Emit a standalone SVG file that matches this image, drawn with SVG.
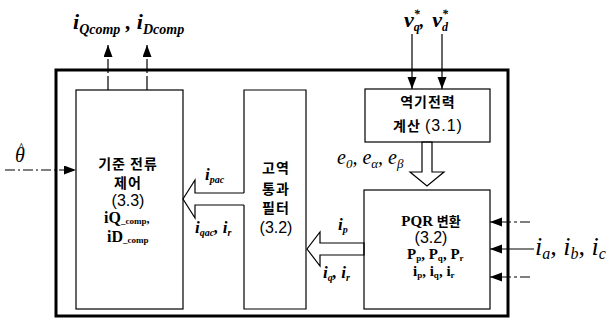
<svg xmlns="http://www.w3.org/2000/svg" width="609" height="320" viewBox="0 0 609 320">
<defs>
<marker id="ah" markerUnits="userSpaceOnUse" markerWidth="13" markerHeight="10" refX="12" refY="4.5" orient="auto">
<path d="M0,0 L12,4.5 L0,9 z" fill="#000"/>
</marker>
<style>
.box{fill:none;stroke:#000;stroke-width:1.2}
.outer{fill:none;stroke:#000;stroke-width:3}
.ln{fill:none;stroke:#000;stroke-width:1.2}
.hollow{fill:#fff;stroke:#000;stroke-width:1.2}
.kr{font-family:"Noto Sans CJK KR","Noto Sans",sans-serif;font-weight:700;font-size:14px;text-anchor:middle;letter-spacing:1px}
.num{font-family:"Liberation Sans",Arial,sans-serif;font-size:16px;text-anchor:middle}
.mi{font-family:"Liberation Serif","Times New Roman",serif;font-style:italic}
.mb{font-family:"Liberation Serif","Times New Roman",serif;font-weight:700}
</style>
</defs>
<rect width="609" height="320" fill="#fff"/>
<rect id="outer" class="outer" x="56" y="70" width="452" height="246"/>

<g id="connectors">
<line class="ln" x1="108" y1="90" x2="108" y2="45" stroke-dasharray="14,3" marker-end="url(#ah)"/>
<line class="ln" x1="147" y1="90" x2="147" y2="45" stroke-dasharray="14,3" marker-end="url(#ah)"/>
<line class="ln" x1="412" y1="34" x2="412" y2="89" marker-end="url(#ah)"/>
<line class="ln" x1="442" y1="34" x2="442" y2="89" marker-end="url(#ah)"/>
<line class="ln" x1="5" y1="170" x2="76" y2="170" stroke-dasharray="10,3,2,3" marker-end="url(#ah)"/>
<line class="ln" x1="530" y1="222" x2="490" y2="222" stroke-dasharray="10,3,3,3" marker-end="url(#ah)"/>
<line class="ln" x1="534" y1="249" x2="490" y2="249" marker-end="url(#ah)"/>
<line class="ln" x1="530" y1="277" x2="490" y2="277" stroke-dasharray="10,3,3,3" marker-end="url(#ah)"/>
<path class="hollow" d="M422,142 V172 H410 L427,186 L444,172 H432 V142 z"/>
<path class="hollow" d="M364,243 H320 V232 L307,249 L320,266 V255 H364 z"/>
<path class="hollow" d="M244,193 H195 V180 L183,199 L195,218 V205 H244"/>
</g>

<g id="ref-current-control">
<rect class="box" x="76" y="90" width="107" height="219"/>
<text class="kr" x="128" y="169">기준 전류</text>
<text class="kr" x="128" y="188">제어</text>
<text class="num" x="128" y="206">(3.3)</text>
<text class="mb" x="104" y="223" font-size="16">iQ<tspan font-size="9" dy="1">_comp</tspan><tspan font-size="12" dy="-1">,</tspan></text>
<text class="mb" x="107" y="242" font-size="16">iD<tspan font-size="9" dy="1">_comp</tspan></text>
</g>

<g id="hpf">
<path class="box" d="M244,193 V90 H306 V309 H244 V205"/>
<text class="kr" x="276" y="173">고역</text>
<text class="kr" x="276" y="194">통과</text>
<text class="kr" x="276" y="213">필터</text>
<text class="num" x="276" y="233">(3.2)</text>
</g>

<g id="emf-calc">
<rect class="box" x="365" y="89" width="125" height="53"/>
<text class="kr" x="428" y="107">역기전력</text>
<text class="kr" x="428" y="131">계산 <tspan font-family="Liberation Sans, Arial, sans-serif" font-weight="400" font-size="16">(3.1)</tspan></text>
</g>

<g id="pqr">
<rect class="box" x="364" y="190" width="126" height="119"/>
<text x="431" y="226" text-anchor="middle"><tspan class="mb" font-size="15">PQR </tspan><tspan font-family="Noto Sans CJK KR, sans-serif" font-weight="700" font-size="13">변환</tspan></text>
<text class="num" x="431" y="243" font-size="15">(3.2)</text>
<text class="mb" x="407" y="259" font-size="15">P<tspan font-size="9" dy="2">p</tspan><tspan dy="-2">, P</tspan><tspan font-size="9" dy="2">q</tspan><tspan dy="-2">, P</tspan><tspan font-size="9" dy="2">r</tspan></text>
<text class="mb" x="413" y="276" font-size="15">i<tspan font-size="9" dy="2">p</tspan><tspan dy="-2">, i</tspan><tspan font-size="9" dy="2">q</tspan><tspan dy="-2">, i</tspan><tspan font-size="9" dy="2">r</tspan></text>
</g>

<g id="labels">
<text class="mi" x="73" y="29" font-size="22" font-weight="700">i<tspan font-size="14" dy="5">Qcomp</tspan><tspan dy="-5"> , i</tspan><tspan font-size="14" dy="5">Dcomp</tspan></text>
<text class="mi" font-weight="700" font-size="22" x="404" y="27">v<tspan font-size="12" dy="-9">*</tspan><tspan font-size="12" dx="-6" dy="13">q</tspan><tspan font-size="18" dy="-4">,</tspan><tspan dx="8">v</tspan><tspan font-size="12" dy="-9">*</tspan><tspan font-size="12" dx="-6" dy="13">d</tspan></text>
<text class="mi" font-size="20" x="15" y="162">θ<tspan font-size="14" dx="-7" dy="-9">^</tspan></text>
<text class="mi" font-size="26" x="535" y="255">i<tspan font-size="16" dy="4">a</tspan><tspan dy="-4">, i</tspan><tspan font-size="16" dy="4">b</tspan><tspan dy="-4">, i</tspan><tspan font-size="16" dy="4">c</tspan></text>
<text class="mi" font-size="20" x="337" y="164">e<tspan font-size="13" dy="4">0</tspan><tspan dy="-4">,  e</tspan><tspan font-size="13" dy="4">α</tspan><tspan dy="-4">,  e</tspan><tspan font-size="13" dy="4">β</tspan></text>
<text class="mi" font-weight="700" font-size="17" x="205" y="180">i<tspan font-size="10" dy="3">pac</tspan></text>
<text class="mi" font-weight="700" font-size="17" x="195" y="233">i<tspan font-size="10" dy="3">qac</tspan><tspan dy="-3">, i</tspan><tspan font-size="10" dy="3">r</tspan></text>
<text class="mi" font-weight="700" font-size="17" x="338" y="230">i<tspan font-size="10" dy="3">p</tspan></text>
<text class="mi" font-weight="700" font-size="17" x="323" y="278">i<tspan font-size="10" dy="3">q</tspan><tspan dy="-3">,  i</tspan><tspan font-size="10" dy="3">r</tspan></text>
</g>
</svg>
